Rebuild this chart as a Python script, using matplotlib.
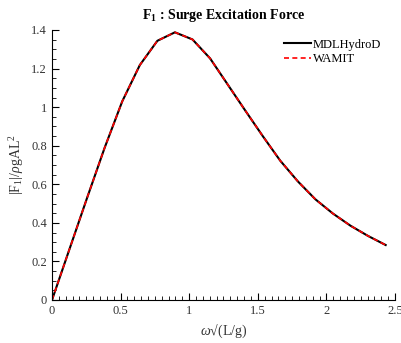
import matplotlib
matplotlib.use("Agg")
import matplotlib.pyplot as plt
from matplotlib.ticker import MultipleLocator

plt.rcParams['font.family'] = ['Liberation Serif', 'DejaVu Serif']
plt.rcParams['mathtext.fontset'] = 'custom'
plt.rcParams['mathtext.rm'] = 'Liberation Serif'
plt.rcParams['mathtext.it'] = 'Liberation Serif:italic'
plt.rcParams['mathtext.bf'] = 'Liberation Serif:bold'

# nondimensional frequency and surge force amplitude
omega = [0.0, 0.128, 0.256, 0.384, 0.512, 0.64, 0.768, 0.896, 1.024, 1.152,
         1.28, 1.408, 1.536, 1.664, 1.792, 1.92, 2.048, 2.176, 2.304, 2.432]
f_mdl = [0.0, 0.265, 0.53, 0.79, 1.03, 1.218, 1.344, 1.388, 1.351, 1.253,
         1.118, 0.983, 0.85, 0.722, 0.615, 0.522, 0.448, 0.385, 0.332, 0.285]
f_wamit = [0.0, 0.265, 0.53, 0.79, 1.03, 1.218, 1.344, 1.388, 1.351, 1.253,
           1.118, 0.983, 0.85, 0.722, 0.615, 0.522, 0.448, 0.385, 0.332, 0.285]

fig = plt.figure(figsize=(4.02, 3.43), dpi=100)
ax = fig.add_axes([52/402, 43/343, 343/402, 270/343])

ax.plot(omega, f_mdl, color='black', lw=1.5, label='MDLHydroD')
ax.plot(omega, f_wamit, color='red', lw=1.2, ls=(0, (3, 2)), label='WAMIT')

ax.set_xlim(0, 2.5)
ax.set_ylim(0, 1.4)
ax.xaxis.set_major_locator(MultipleLocator(0.5))
ax.xaxis.set_minor_locator(MultipleLocator(0.05))
ax.yaxis.set_major_locator(MultipleLocator(0.2))
ax.yaxis.set_minor_locator(MultipleLocator(0.05))
ax.xaxis.set_major_formatter(plt.FuncFormatter(lambda v, p: f'{v:g}'))
ax.yaxis.set_major_formatter(plt.FuncFormatter(lambda v, p: f'{v:g}'))

for s in ['top', 'right']:
    ax.spines[s].set_visible(False)
ax.tick_params(which='both', direction='in', labelsize=9, labelcolor='#333333')
ax.tick_params(which='major', length=5)
ax.tick_params(which='minor', length=3)

ax.set_title(r'$\mathbf{F_1}$ : Surge Excitation Force', fontsize=10, fontweight='bold', pad=8)
ax.set_xlabel(r'$\omega$' + '\u221a(L/g)', fontsize=10, color='#333333')
ax.set_ylabel(r'|F$_1$|/$\rho$gAL$^2$', fontsize=10, color='#333333')

ax.legend(loc='upper right', frameon=False, fontsize=9, handlelength=2.2,
          handletextpad=0.1, borderaxespad=0.3, labelspacing=0.2,
          bbox_to_anchor=(0.985, 1.0))

fig.savefig('out.png', dpi=100)
